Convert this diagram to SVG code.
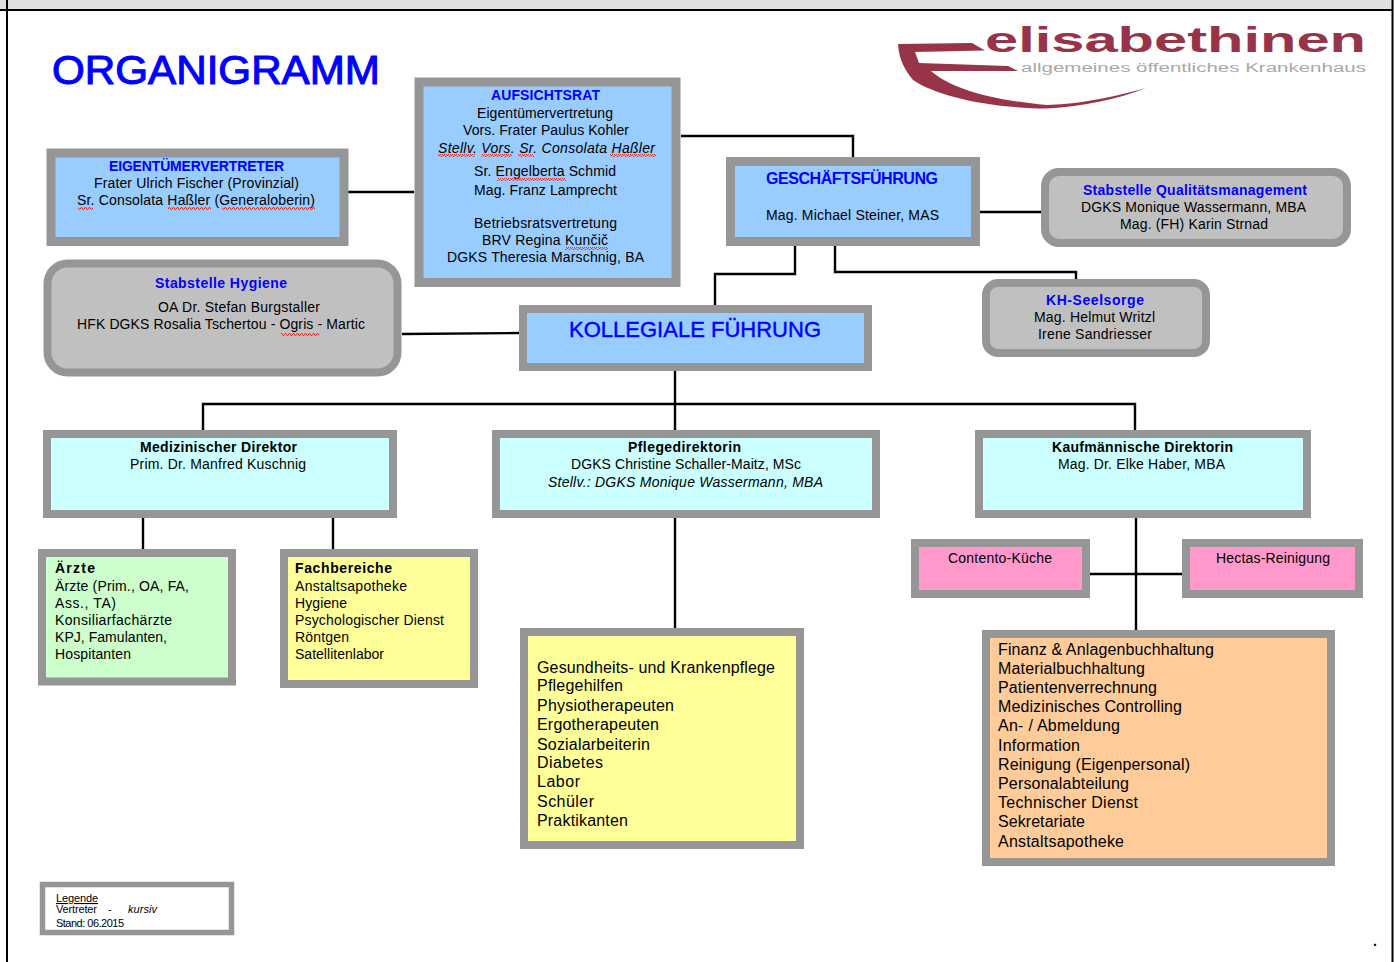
<svg xmlns="http://www.w3.org/2000/svg" width="1394" height="962" viewBox="0 0 1394 962">
<style>
text{font-family:"Liberation Sans",Arial,sans-serif;font-size:14px;fill:#000;white-space:pre}
.h{font-weight:bold;fill:#0000ff}
.b{font-weight:bold}
.i{font-style:italic}
.l{font-size:16px}
.s{font-size:11px}
.box{stroke:#969696;stroke-width:9}
.blue{fill:#99ccff}.grey{fill:#c0c0c0}.cyan{fill:#ccffff}.green{fill:#ccffcc}.yellow{fill:#ffff99}.pink{fill:#ff99cc}.peach{fill:#ffcc99}
.c{fill:none;stroke:#000;stroke-width:2.4}
.logo{fill:#983448}
</style>
<defs>
<pattern id="wave" width="4" height="3" patternUnits="userSpaceOnUse"><path d="M0 2.500 L1 .5 L2 .5 L3 2.500 L4 2.500" fill="none" stroke="#e83030" stroke-width="1"/></pattern>
</defs>
<rect width="1394" height="962" fill="#fff"/>
<g id="frame">
<rect x="0" y="0" width="1394" height="10" fill="#e0e0e0"/>
<path d="M7 0V962M0 10H1392M1392.500 0V962" fill="none" stroke="#000" stroke-width="2"/>
</g>
<g id="connectors">
<path class="c" d="M681 136H853V157"/>
<path class="c" d="M348 192H414"/>
<path class="c" d="M402 334L519 333"/>
<path class="c" d="M975 212H1041"/>
<path class="c" d="M795 246V274H715V305"/>
<path class="c" d="M835 246V272H1076V279"/>
<path class="c" d="M675 371V430"/>
<path class="c" d="M203 430V404H1135V430"/>
<path class="c" d="M143 518V549"/>
<path class="c" d="M333 518V549"/>
<path class="c" d="M675 518V628"/>
<path class="c" d="M1136 518V630"/>
<path class="c" d="M1090 574H1182"/>
</g>
<g id="title"><text x="52" y="84" textLength="328" lengthAdjust="spacingAndGlyphs" style="font-size:41px;fill:#0000ff;stroke:#0000ff;stroke-width:1.100">ORGANIGRAMM</text></g>
<g id="logo">
<path class="logo" d="M898 44L972 43L985 50.500L915 52L919 63L1008 66L1018 71L931 71C950 88 990 100 1047 105C1085 104 1120 95 1146 88C1115 100 1085 106 1047 108.500C985 108 935 95 913 80C905 70 899 60 898 44Z"/>
<text x="985" y="52" textLength="381" lengthAdjust="spacingAndGlyphs" style="font-size:35px;font-weight:bold;fill:#983448">elisabethinen</text>
<text x="1021" y="72" textLength="345" lengthAdjust="spacingAndGlyphs" style="font-size:12.500px;fill:#a8a8a8">allgemeines öffentliches Krankenhaus</text>
</g>
<g id="aufsichtsrat">
<rect class="box blue" x="419" y="82" width="257" height="200.500"/>
<text class="h" x="491" y="100" textLength="109">AUFSICHTSRAT</text>
<text x="477" y="118" textLength="136">Eigentümervertretung</text>
<text x="463" y="135" textLength="166">Vors. Frater Paulus Kohler</text>
<text class="i" x="438" y="153" textLength="217">Stellv. Vors. Sr. Consolata Haßler</text>
<text x="474" y="176" textLength="142">Sr. Engelberta Schmid</text>
<text x="474" y="195" textLength="143">Mag. Franz Lamprecht</text>
<text x="474" y="228" textLength="143">Betriebsratsvertretung</text>
<text x="482" y="245" textLength="126">BRV Regina Kunčič</text>
<text x="447" y="262" textLength="197">DGKS Theresia Marschnig, BA</text>
<rect x="438" y="154" width="37" height="3" fill="url(#wave)"/>
<rect x="481" y="154" width="31" height="3" fill="url(#wave)"/>
<rect x="518" y="154" width="16" height="3" fill="url(#wave)"/>
<rect x="610" y="154" width="46" height="3" fill="url(#wave)"/>
<rect x="497" y="178" width="69" height="3" fill="url(#wave)"/>
<rect x="565" y="247" width="43" height="3" fill="url(#wave)"/>
</g>
<g id="eigentuemervertreter">
<rect class="box blue" x="51" y="153" width="293" height="88.500"/>
<text class="h" x="109" y="171" textLength="175">EIGENTÜMERVERTRETER</text>
<text x="94" y="188" textLength="205">Frater Ulrich Fischer (Provinzial)</text>
<text x="77" y="205" textLength="238">Sr. Consolata Haßler (Generaloberin)</text>
<rect x="78" y="207" width="15" height="3" fill="url(#wave)"/>
<rect x="168" y="207" width="43" height="3" fill="url(#wave)"/>
<rect x="222" y="207" width="93" height="3" fill="url(#wave)"/>
</g>
<g id="stabstelle-hygiene">
<rect class="box grey" x="47.500" y="263.500" width="350" height="109" rx="20" style="stroke-width:8"/>
<text class="h" x="155" y="288" textLength="132">Stabstelle Hygiene</text>
<text x="158" y="312" textLength="162">OA Dr. Stefan Burgstaller</text>
<text x="77" y="329" textLength="288">HFK DGKS Rosalia Tschertou - Ogris - Martic</text>
<rect x="281" y="333" width="38" height="3" fill="url(#wave)"/>
</g>
<g id="geschaeftsfuehrung">
<rect class="box blue" x="730.500" y="161.500" width="245" height="80"/>
<text class="h" x="766" y="184" textLength="172" style="font-size:16px">GESCHÄFTSFÜHRUNG</text>
<text x="766" y="220" textLength="173">Mag. Michael Steiner, MAS</text>
</g>
<g id="stabstelle-qualitaet">
<rect class="box grey" x="1045" y="172" width="302" height="71" rx="14" style="stroke-width:8"/>
<text class="h" x="1083" y="195" textLength="224">Stabstelle Qualitätsmanagement</text>
<text x="1081" y="212" textLength="225">DGKS Monique Wassermann, MBA</text>
<text x="1120" y="229" textLength="148">Mag. (FH) Karin Strnad</text>
</g>
<g id="kh-seelsorge">
<rect class="box grey" x="986" y="283" width="220" height="70" rx="12" style="stroke-width:8"/>
<text class="h" x="1046" y="305" textLength="98">KH-Seelsorge</text>
<text x="1034" y="322" textLength="121">Mag. Helmut Writzl</text>
<text x="1038" y="339" textLength="114">Irene Sandriesser</text>
</g>
<g id="kollegiale-fuehrung">
<rect class="box blue" x="523" y="309" width="345" height="58" style="stroke-width:8"/>
<text x="569" y="337" textLength="252" style="font-size:22px;fill:#0000ff;stroke:#0000ff;stroke-width:.4">KOLLEGIALE FÜHRUNG</text>
</g>
<g id="medizinischer-direktor">
<rect class="box cyan" x="47" y="434" width="346" height="80" style="stroke-width:8"/>
<text class="b" x="140" y="452" textLength="157">Medizinischer Direktor</text>
<text x="130" y="469" textLength="176">Prim. Dr. Manfred Kuschnig</text>
</g>
<g id="pflegedirektorin">
<rect class="box cyan" x="496" y="434" width="380" height="80" style="stroke-width:8"/>
<text class="b" x="628" y="452" textLength="113">Pflegedirektorin</text>
<text x="571" y="469" textLength="230">DGKS Christine Schaller-Maitz, MSc</text>
<text class="i" x="548" y="487" textLength="275">Stellv.: DGKS Monique Wassermann, MBA</text>
</g>
<g id="kaufmaennische-direktorin">
<rect class="box cyan" x="979" y="434" width="328" height="80" style="stroke-width:8"/>
<text class="b" x="1052" y="452" textLength="181">Kaufmännische Direktorin</text>
<text x="1058" y="469" textLength="167">Mag. Dr. Elke Haber, MBA</text>
</g>
<g id="aerzte">
<rect class="box green" x="42" y="553" width="190" height="128.500" style="stroke-width:8"/>
<text class="b" x="55" y="573" textLength="40">Ärzte</text>
<text x="55" y="591" textLength="134">Ärzte (Prim., OA, FA,</text>
<text x="55" y="608" textLength="61">Ass., TA)</text>
<text x="55" y="625" textLength="117">Konsiliarfachärzte</text>
<text x="55" y="642" textLength="112">KPJ, Famulanten,</text>
<text x="55" y="659" textLength="76">Hospitanten</text>
</g>
<g id="fachbereiche">
<rect class="box yellow" x="284" y="553" width="190" height="131" style="stroke-width:8"/>
<text class="b" x="295" y="573" textLength="97">Fachbereiche</text>
<text x="295" y="591" textLength="112">Anstaltsapotheke</text>
<text x="295" y="608" textLength="52">Hygiene</text>
<text x="295" y="625" textLength="149">Psychologischer Dienst</text>
<text x="295" y="642" textLength="54">Röntgen</text>
<text x="295" y="659" textLength="89">Satellitenlabor</text>
</g>
<g id="contento">
<rect class="box pink" x="915" y="543" width="171" height="51" style="stroke-width:8"/>
<text x="948" y="563" textLength="104">Contento-Küche</text>
</g>
<g id="hectas">
<rect class="box pink" x="1186" y="543" width="173" height="51" style="stroke-width:8"/>
<text x="1216" y="563" textLength="114">Hectas-Reinigung</text>
</g>
<g id="pflege-bereiche">
<rect class="box yellow" x="524" y="632" width="276" height="213" style="stroke-width:8"/>
<text class="l" x="537" y="673" textLength="238">Gesundheits- und Krankenpflege</text>
<text class="l" x="537" y="691" textLength="86">Pflegehilfen</text>
<text class="l" x="537" y="711" textLength="137">Physiotherapeuten</text>
<text class="l" x="537" y="730" textLength="122">Ergotherapeuten</text>
<text class="l" x="537" y="750" textLength="113">Sozialarbeiterin</text>
<text class="l" x="537" y="768" textLength="66">Diabetes</text>
<text class="l" x="537" y="787" textLength="43">Labor</text>
<text class="l" x="537" y="807" textLength="57">Schüler</text>
<text class="l" x="537" y="826" textLength="91">Praktikanten</text>
</g>
<g id="kaufm-bereiche">
<rect class="box peach" x="986" y="634" width="345" height="228" style="stroke-width:8"/>
<text class="l" x="998" y="655" textLength="216">Finanz &amp; Anlagenbuchhaltung</text>
<text class="l" x="998" y="674" textLength="147">Materialbuchhaltung</text>
<text class="l" x="998" y="693" textLength="159">Patientenverrechnung</text>
<text class="l" x="998" y="712" textLength="184">Medizinisches Controlling</text>
<text class="l" x="998" y="731" textLength="122">An- / Abmeldung</text>
<text class="l" x="998" y="751" textLength="82">Information</text>
<text class="l" x="998" y="770" textLength="192">Reinigung (Eigenpersonal)</text>
<text class="l" x="998" y="789" textLength="131">Personalabteilung</text>
<text class="l" x="998" y="808" textLength="140">Technischer Dienst</text>
<text class="l" x="998" y="827" textLength="87">Sekretariate</text>
<text class="l" x="998" y="847" textLength="126">Anstaltsapotheke</text>
</g>
<g id="legende">
<rect class="box" x="42.500" y="884.500" width="189" height="48" fill="#fff" style="stroke-width:5.500"/>
<text class="s" x="56" y="902" textLength="42" text-decoration="underline">Legende</text>
<text class="s" x="56" y="913" textLength="41">Vertreter</text>
<text class="s" x="108" y="913">-</text>
<text class="s i" x="128" y="913" textLength="29">kursiv</text>
<text class="s" x="56" y="927" textLength="68">Stand: 06.2015</text>
</g>
<text x="1373" y="946" style="font-size:14px;font-weight:bold">.</text>
</svg>
